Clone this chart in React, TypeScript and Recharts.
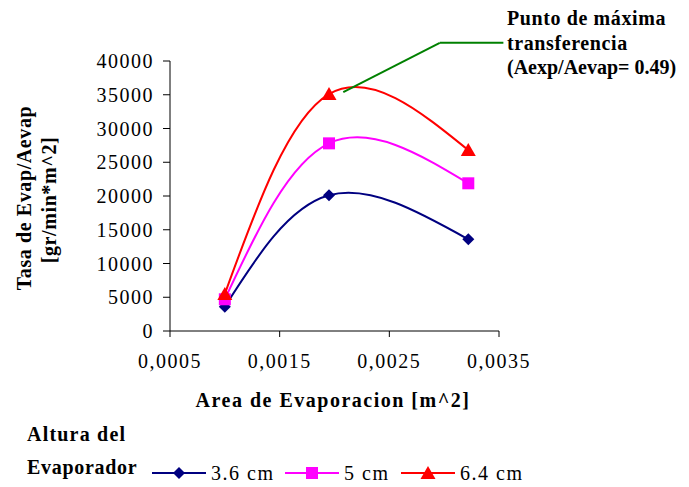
import React from "react"
import { LineChart, Line, XAxis, YAxis, ReferenceLine } from "recharts"

// evaporation area [m^2] for the three measurements
const AREA = [0.001, 0.00195, 0.00322]
// Tasa de Evap/Aevap per evaporator height
const H_36 = [3600, 20100, 13580]
const H_5 = [4700, 27800, 21880]
const H_64 = [5500, 35100, 26800]

const X_TICKS = [0.0005, 0.0015, 0.0025, 0.0035]
const Y_TICKS = [0, 5000, 10000, 15000, 20000, 25000, 30000, 35000, 40000]

// leader line of the "Punto de máxima transferencia" callout (data coords)
const NOTE_X = [0.00208, 0.00296, 0.00354]
const NOTE_Y = [35400, 42700, 42700]
const NOTE_LINES = ["Punto de máxima", "transferencia", "(Aexp/Aevap= 0.49)"]

const SERIES = [
  { key: "h36", name: "3.6 cm", color: "#000080", shape: "diamond" },
  { key: "h5", name: "5 cm", color: "#FF00FF", shape: "square" },
  { key: "h64", name: "6.4 cm", color: "#FF0000", shape: "triangle" },
]

const rows = AREA.map((a, i) => ({ area: a, h36: H_36[i], h5: H_5[i], h64: H_64[i] }))

const FONT = "Liberation Serif"

function Marker({ cx, cy, shape, color }: { cx: number; cy: number; shape: string; color: string }) {
  if (shape === "diamond") {
    return <polygon points={`${cx},${cy - 6} ${cx + 6},${cy} ${cx},${cy + 6} ${cx - 6},${cy}`} fill={color} />
  }
  if (shape === "square") {
    return <rect x={cx - 6} y={cy - 6} width={12} height={12} fill={color} />
  }
  return <polygon points={`${cx},${cy - 7} ${cx + 7.5},${cy + 6} ${cx - 7.5},${cy + 6}`} fill={color} />
}

const fmtX = (v: number) => v.toFixed(4).replace(".", ",")

const tickStyle = { fill: "#000", fontSize: 20, fontFamily: FONT, letterSpacing: 1.5 }

export default function App() {
  const legendX = [152, 285, 401]
  return (
    <div style={{ position: "relative", width: 689, height: 487, margin: "-8px 0 0 -8px", background: "#fff", fontFamily: FONT }}>
      <LineChart
        width={689}
        height={487}
        data={rows}
        margin={{ top: 61, right: 190, bottom: 116, left: 90 }}
        style={{ fontFamily: FONT }}
      >
        <XAxis
          type="number"
          dataKey="area"
          domain={[0.0005, 0.0035]}
          ticks={X_TICKS}
          tickFormatter={fmtX}
          height={40}
          stroke="#000"
          tickSize={6}
          tickMargin={17}
          tick={tickStyle}
        />
        <YAxis
          type="number"
          domain={[0, 40000]}
          ticks={Y_TICKS}
          width={80}
          stroke="#000"
          tickSize={7}
          tickMargin={9}
          tick={tickStyle}
        />
        {SERIES.map((s) => (
          <Line
            key={s.key}
            dataKey={s.key}
            type="natural"
            stroke={s.color}
            strokeWidth={2}
            isAnimationActive={false}
            dot={(p: any) => <Marker key={`${s.key}-${p.index}`} cx={p.cx} cy={p.cy} shape={s.shape} color={s.color} />}
            activeDot={false}
          />
        ))}
        {NOTE_X.slice(1).map((x, i) => (
          <ReferenceLine
            key={`note-${i}`}
            segment={[
              { x: NOTE_X[i], y: NOTE_Y[i] },
              { x, y: NOTE_Y[i + 1] },
            ]}
            stroke="#008000"
            strokeWidth={2}
            ifOverflow="visible"
          />
        ))}
      </LineChart>

      <svg
        width={689}
        height={487}
        style={{ position: "absolute", left: 0, top: 0, pointerEvents: "none", fontFamily: FONT }}
      >
        {/* y axis title */}
        <text transform="translate(31,198) rotate(-90)" textAnchor="middle" fontSize={20} fontWeight="bold" letterSpacing={0.6}>
          Tasa de Evap/Aevap
        </text>
        <text transform="translate(56,200) rotate(-90)" textAnchor="middle" fontSize={20} fontWeight="bold" letterSpacing={0.6}>
          [gr/min*m^2]
        </text>

        {/* x axis title */}
        <text x={333} y={407} textAnchor="middle" fontSize={20} fontWeight="bold" letterSpacing={1.5}>
          Area de Evaporacion [m^2]
        </text>

        {/* callout */}
        {NOTE_LINES.map((t, i) => (
          <text key={t} x={507} y={25 + i * 24.5} fontSize={20} fontWeight="bold" letterSpacing={i === 2 ? 0 : 0.6}>
            {t}
          </text>
        ))}

        {/* legend */}
        <text x={27} y={441} fontSize={20} fontWeight="bold" letterSpacing={1.2}>
          Altura del
        </text>
        <text x={27} y={474} fontSize={20} fontWeight="bold" letterSpacing={0.7}>
          Evaporador
        </text>
        {SERIES.map((s, i) => (
          <g key={s.key}>
            <line x1={legendX[i]} x2={legendX[i] + 54} y1={473} y2={473} stroke={s.color} strokeWidth={2} />
            <Marker cx={legendX[i] + 27} cy={473} shape={s.shape} color={s.color} />
            <text x={legendX[i] + 59} y={480} fontSize={20} letterSpacing={1.5}>
              {s.name}
            </text>
          </g>
        ))}
      </svg>
    </div>
  )
}
